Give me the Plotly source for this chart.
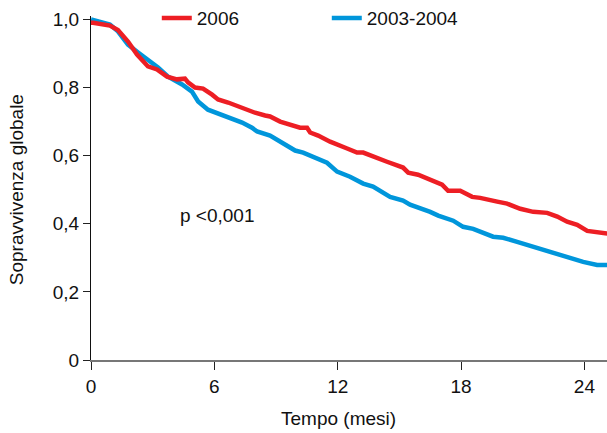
import plotly.graph_objects as go

# Series: 2006
months_2006 = [0.0, 0.10, 0.92, 1.31, 1.80, 2.24, 2.77, 3.21, 3.70, 4.18, 4.57, 4.72, 5.06, 5.45,
               5.89, 6.18, 6.67, 7.15, 7.64, 7.98, 8.47, 8.71, 9.20, 9.83, 10.17, 10.51, 10.66,
               11.05, 11.63, 12.46, 12.94, 13.24, 13.72, 14.40, 15.18, 15.43, 15.91, 16.50,
               17.08, 17.37, 17.96, 18.54, 18.93, 19.76, 20.24, 20.88, 21.51, 22.19, 22.68,
               23.16, 23.65, 24.14, 24.62, 25.11]
surv_2006 = [0.990, 0.990, 0.982, 0.969, 0.935, 0.897, 0.862, 0.853, 0.832, 0.824, 0.826, 0.815,
             0.800, 0.797, 0.779, 0.765, 0.756, 0.744, 0.735, 0.726, 0.718, 0.715, 0.700, 0.688,
             0.682, 0.682, 0.668, 0.659, 0.641, 0.621, 0.609, 0.609, 0.597, 0.582, 0.565, 0.550,
             0.544, 0.529, 0.515, 0.497, 0.497, 0.479, 0.476, 0.465, 0.459, 0.444, 0.435, 0.432,
             0.421, 0.406, 0.397, 0.379, 0.376, 0.371]

# Series: 2003-2004
months_0304 = [0.0, 0.92, 1.31, 1.80, 2.29, 2.77, 3.26, 3.75, 4.43, 4.91, 5.21, 5.69, 6.18,
               6.86, 7.35, 7.83, 8.08, 8.71, 9.05, 9.54, 9.93, 10.32, 11.00, 11.48, 11.97,
               12.60, 13.24, 13.72, 14.55, 15.18, 15.52, 16.01, 16.50, 16.89, 17.62, 18.10,
               18.59, 19.56, 20.05, 20.73, 21.70, 22.48, 23.31, 23.94, 24.62, 25.11]
surv_0304 = [1.000, 0.985, 0.965, 0.926, 0.903, 0.882, 0.859, 0.832, 0.809, 0.788, 0.759, 0.735,
             0.724, 0.706, 0.697, 0.682, 0.671, 0.659, 0.647, 0.632, 0.615, 0.609, 0.591, 0.579,
             0.553, 0.538, 0.518, 0.509, 0.479, 0.468, 0.456, 0.447, 0.435, 0.424, 0.409, 0.391,
             0.385, 0.362, 0.359, 0.347, 0.329, 0.315, 0.297, 0.288, 0.279, 0.279]

x_ticks = [0, 6, 12, 18, 24]
y_ticks = [0, 0.2, 0.4, 0.6, 0.8, 1.0]
y_tick_labels = ["0", "0,2", "0,4", "0,6", "0,8", "1,0"]

RED = "rgb(237,30,36)"
BLUE = "rgb(0,150,219)"
FONT = "Liberation Sans, Arial, Helvetica, sans-serif"
FS = 19

fig = go.Figure()
fig.add_trace(go.Scatter(x=months_0304, y=surv_0304, mode="lines", name="2003-2004",
                         line=dict(color=BLUE, width=4.5), legendrank=2))
fig.add_trace(go.Scatter(x=months_2006, y=surv_2006, mode="lines", name="2006",
                         line=dict(color=RED, width=4.5), legendrank=1))

fig.add_annotation(x=6.13, y=0.424, text="p <0,001", showarrow=False,
                   font=dict(size=FS, color="#111", family=FONT))
fig.add_annotation(xref="paper", yref="paper", x=0.479, y=-0.169, text="Tempo (mesi)",
                   showarrow=False, xanchor="center", yanchor="middle",
                   font=dict(size=FS, color="#111", family=FONT))
fig.add_annotation(xref="paper", yref="paper", x=-0.145, y=0.494, text="Sopravvivenza globale",
                   showarrow=False, textangle=-90, xanchor="center", yanchor="middle",
                   font=dict(size=FS, color="#111", family=FONT))

fig.update_layout(
    width=607, height=433,
    margin=dict(l=91, r=0, t=16, b=73, autoexpand=False),
    paper_bgcolor="white", plot_bgcolor="white",
    font=dict(family=FONT, size=FS, color="#111"),
    showlegend=True,
    legend=dict(orientation="h", x=0.1275, y=0.994, xanchor="left", yanchor="middle",
                entrywidth=125, entrywidthmode="pixels", itemwidth=30,
                font=dict(size=FS), bgcolor="rgba(0,0,0,0)", traceorder="normal"),
    xaxis=dict(range=[0, 25.1], tickvals=x_ticks, ticks="outside", ticklen=8,
               tickcolor="#222", showline=True, linecolor="#777", linewidth=1.5,
               showgrid=False, zeroline=False, tickfont=dict(size=FS), automargin=False),
    yaxis=dict(range=[0, 1.01], tickvals=y_ticks, ticktext=y_tick_labels, ticks="outside",
               ticklen=7, tickcolor="#222", showline=True, linecolor="#111", linewidth=1.2,
               showgrid=False, zeroline=False, tickfont=dict(size=FS), automargin=False),
)

fig.write_html("out.html",
               config={"displayModeBar": False},
               post_script="document.body.style.margin='0';document.body.style.overflow='hidden';")
